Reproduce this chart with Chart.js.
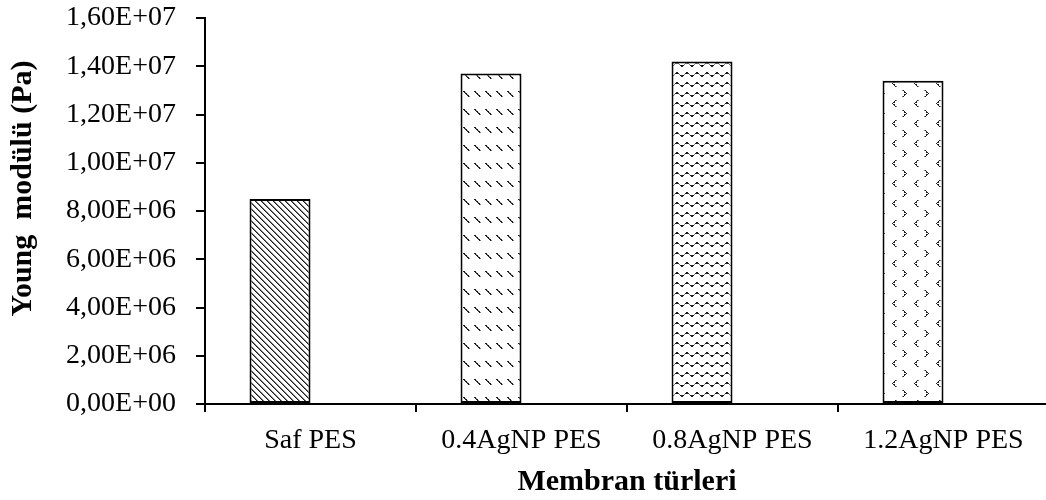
<!DOCTYPE html>
<html lang="tr">
<head>
<meta charset="utf-8">
<script src="https://cdn.jsdelivr.net/npm/chart.js@4.4.1/dist/chart.umd.min.js"></script>
<style>
  html, body { margin: 0; padding: 0; background: #fff; overflow: hidden; }
  #wrap { width: 1049px; height: 500px; }
</style>
</head>
<body>
<div id="wrap"><canvas id="youngChart" width="1049" height="500"></canvas></div>
<script>
// === Données ===
const membraneTypes = ['Saf PES', '0.4AgNP PES', '0.8AgNP PES', '1.2AgNP PES'];
const youngModulus = [8.50e6, 1.37e7, 1.42e7, 1.34e7];
const yTickValues = [0, 2e6, 4e6, 6e6, 8e6, 1e7, 1.2e7, 1.4e7, 1.6e7];

const FONT = 'Liberation Serif';

// === Format "1,60E+07" ===
function formatSci(v) {
  if (v === 0) return '0,00E+00';
  const exp = Math.floor(Math.log10(v));
  const mant = v / Math.pow(10, exp);
  return mant.toFixed(2).replace('.', ',') + 'E+' + String(exp).padStart(2, '0');
}

const ctx = document.getElementById('youngChart').getContext('2d');

// === Motifs de remplissage (style Excel) ===
function makePattern(w, h, dark, light) {
  const c = document.createElement('canvas');
  c.width = w; c.height = h;
  const g = c.getContext('2d');
  g.fillStyle = '#fff';
  g.fillRect(0, 0, w, h);
  g.fillStyle = '#7a7a7a';
  light.forEach(([x, y]) => g.fillRect(x, y, 1, 1));
  g.fillStyle = '#1e1e1e';
  dark.forEach(([x, y]) => g.fillRect(x, y, 1, 1));
  return ctx.createPattern(c, 'repeat');
}

// hachures diagonales serrées
const diagDark = [], diagLight = [];
for (let i = 0; i < 6; i++) {
  diagDark.push([i, i]);
  diagLight.push([(i + 1) % 6, i]);
}

// tirets diagonaux
const dashDark = [[1, 1], [2, 2], [3, 3], [4, 4], [5, 5], [6, 6], [2, 1], [4, 3], [6, 5]];
const dashLight = [[3, 2], [5, 4], [7, 6]];

// vagues
const waveDark = [[0, 5], [1, 6], [2, 6], [3, 5], [5, 3], [6, 2], [7, 2], [8, 3],
                  [1, 5], [2, 5], [6, 3], [7, 3]];
const waveLight = [[4, 4], [9, 4]];

// chevrons < >
const chevDark = [[15, 0], [14, 1], [13, 2], [12, 3], [13, 4], [14, 5], [15, 6], [14, 2], [14, 4],
                  [1, 10], [2, 11], [3, 12], [4, 13], [3, 14], [2, 15], [1, 16], [2, 12], [2, 14]];
const chevLight = [[16, 0], [16, 6], [0, 10], [0, 16]];

const barPatterns = [
  makePattern(6, 6, diagDark, diagLight),
  makePattern(11, 18, dashDark, dashLight),
  makePattern(10, 10, waveDark, waveLight),
  makePattern(22, 20, chevDark, chevLight)
];

// === Graphique ===
new Chart(ctx, {
  type: 'bar',
  data: {
    labels: membraneTypes,
    datasets: [
      {
        data: youngModulus,
        backgroundColor: barPatterns,
        borderColor: '#000',
        borderWidth: 2,
        borderSkipped: false
      },
      { data: [null, null, null, null] } // case vide (comme Excel)
    ]
  },
  options: {
    responsive: false,
    animation: false,
    layout: { padding: 0 },
    plugins: { legend: { display: false }, tooltip: { enabled: false } },
    datasets: { bar: { categoryPercentage: 0.578, barPercentage: 1 } },
    scales: {
      x: {
        grid: { offset: true, drawOnChartArea: false, tickLength: 8, color: '#000', lineWidth: 2 },
        border: { color: '#000', width: 2 },
        ticks: { color: '#000', font: { family: FONT, size: 28 }, padding: 12, maxRotation: 0 },
        title: { display: true, text: 'Membran türleri', color: '#000', font: { family: FONT, size: 30, weight: 'bold' }, padding: 0 },
        afterFit: s => { s.height = 96; }
      },
      y: {
        min: 0,
        max: 1.6e7,
        afterBuildTicks: s => { s.ticks = yTickValues.map(v => ({ value: v })); },
        grid: { drawOnChartArea: false, tickLength: 9, color: '#000', lineWidth: 2 },
        border: { color: '#000', width: 2 },
        ticks: { color: '#000', font: { family: FONT, size: 28 }, padding: 20, callback: v => formatSci(v) },
        title: { display: true, text: '      Young  modülü (Pa)', color: '#000', font: { family: FONT, size: 30, weight: 'bold' }, padding: { top: 5, bottom: 0 } },
        afterFit: s => { s.width = 205; s.paddingTop = 18; s.paddingBottom = 0; }
      }
    }
  }
});
</script>
</body>
</html>
